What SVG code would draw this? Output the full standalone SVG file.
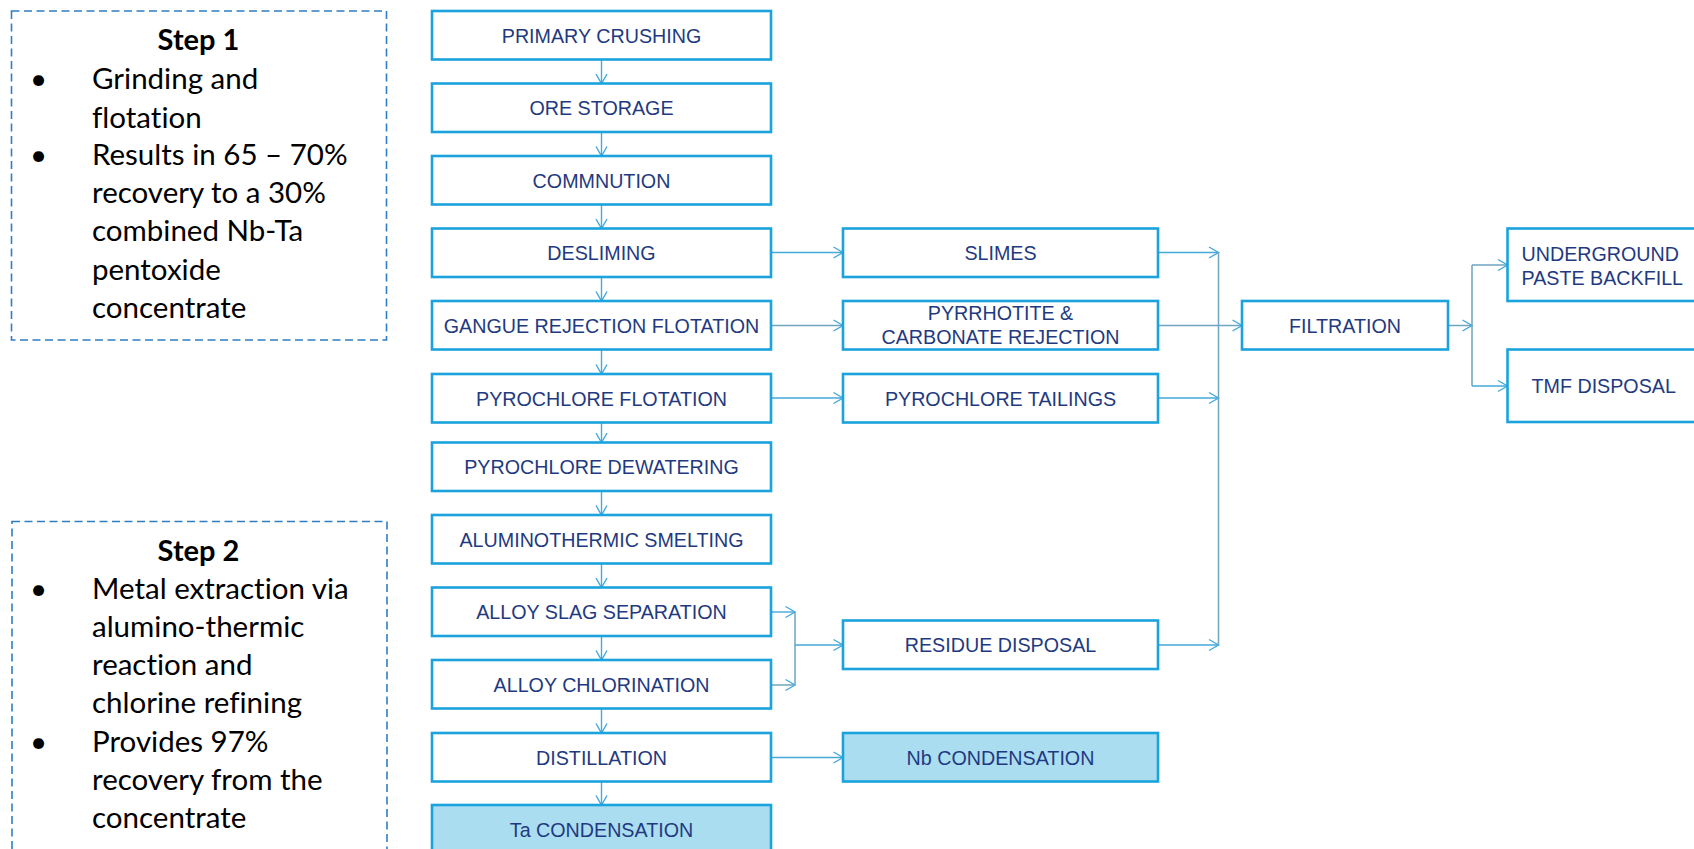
<svg xmlns="http://www.w3.org/2000/svg" width="1694" height="849" viewBox="0 0 1694 849">
<defs>
<marker id="arr" markerUnits="userSpaceOnUse" markerWidth="12" markerHeight="14" viewBox="0 0 12 14" refX="10.5" refY="7" orient="auto">
<path d="M1,1.5 L10.5,7 L1,12.5" fill="none" stroke="#45A9DA" stroke-width="1.4"/>
</marker>
<style>
.box{fill:#FFFFFF;stroke:#1AA3DD;stroke-width:2.6}
.fill{fill:#ABDDF1;stroke:#1AA3DD;stroke-width:2.6}
.t{font-family:"Liberation Sans",Arial,sans-serif;font-size:19.7px;fill:#1F3A80;text-anchor:middle}
.ts{font-family:"Liberation Sans",Arial,sans-serif;font-size:19.7px;fill:#1F3A80;text-anchor:start}
.c{fill:none;stroke:#45A9DA;stroke-width:1.4}
.g{fill:none;stroke:#6FA5C0;stroke-width:1.5}
.dash{fill:none;stroke:#2F7EC3;stroke-width:1.6;stroke-dasharray:8 4.5}
.st{font-family:Lato,"Open Sans",sans-serif;font-size:29.5px;fill:#000000;font-variant-ligatures:none;font-feature-settings:"liga" 0,"dlig" 0}
.sb{font-family:Lato,"Open Sans",sans-serif;font-size:29px;font-weight:bold;fill:#000000;text-anchor:middle}
</style>
</defs>

<g id="step1">
<rect class="dash" x="11.5" y="11" width="375" height="329"/>
<text class="sb" x="198.5" y="50">Step 1</text>
<text class="st" x="30" y="89">•</text>
<text class="st" x="92" y="89">Grinding and</text>
<text class="st" x="92" y="127.5">flotation</text>
<text class="st" x="30" y="165">•</text>
<text class="st" x="92" y="165">Results in 65 – 70%</text>
<text class="st" x="92" y="203">recovery to a 30%</text>
<text class="st" x="92" y="241">combined Nb-Ta</text>
<text class="st" x="92" y="279.5">pentoxide</text>
<text class="st" x="92" y="318">concentrate</text>
</g>

<g id="step2">
<rect class="dash" x="12" y="521.5" width="375" height="345"/>
<text class="sb" x="198.5" y="560.5">Step 2</text>
<text class="st" x="30" y="598.5">•</text>
<text class="st" x="92" y="598.5">Metal extraction via</text>
<text class="st" x="92" y="636.5">alumino-thermic</text>
<text class="st" x="92" y="675">reaction and</text>
<text class="st" x="92" y="713">chlorine refining</text>
<text class="st" x="30" y="751.5">•</text>
<text class="st" x="92" y="751.5">Provides 97%</text>
<text class="st" x="92" y="789.5">recovery from the</text>
<text class="st" x="92" y="828">concentrate</text>
</g>

<g id="connectors">
<line class="c" x1="601.5" y1="59.5" x2="601.5" y2="83.5" marker-end="url(#arr)"/>
<line class="c" x1="601.5" y1="132" x2="601.5" y2="156" marker-end="url(#arr)"/>
<line class="c" x1="601.5" y1="204.5" x2="601.5" y2="228.5" marker-end="url(#arr)"/>
<line class="c" x1="601.5" y1="277" x2="601.5" y2="301" marker-end="url(#arr)"/>
<line class="c" x1="601.5" y1="349.5" x2="601.5" y2="374" marker-end="url(#arr)"/>
<line class="c" x1="601.5" y1="422.5" x2="601.5" y2="442.5" marker-end="url(#arr)"/>
<line class="c" x1="601.5" y1="491" x2="601.5" y2="515" marker-end="url(#arr)"/>
<line class="c" x1="601.5" y1="563.5" x2="601.5" y2="587.5" marker-end="url(#arr)"/>
<line class="c" x1="601.5" y1="636" x2="601.5" y2="660" marker-end="url(#arr)"/>
<line class="c" x1="601.5" y1="708.5" x2="601.5" y2="733" marker-end="url(#arr)"/>
<line class="c" x1="601.5" y1="781.5" x2="601.5" y2="805" marker-end="url(#arr)"/>

<line class="c" x1="771" y1="252.5" x2="843" y2="252.5" marker-end="url(#arr)"/>
<line class="g" x1="771" y1="325.5" x2="843" y2="325.5" marker-end="url(#arr)"/>
<line class="c" x1="771" y1="398" x2="843" y2="398" marker-end="url(#arr)"/>

<line class="c" x1="1158" y1="252.5" x2="1218.5" y2="252.5" marker-end="url(#arr)"/>
<line class="g" x1="1158" y1="325.5" x2="1242" y2="325.5" marker-end="url(#arr)"/>
<line class="c" x1="1158" y1="398" x2="1218.5" y2="398" marker-end="url(#arr)"/>
<line class="c" x1="1158" y1="645" x2="1218.5" y2="645" marker-end="url(#arr)"/>
<line class="g" x1="1218.5" y1="252.5" x2="1218.5" y2="645"/>

<line class="g" x1="1448" y1="325.5" x2="1472" y2="325.5" marker-end="url(#arr)"/>
<line class="g" x1="1472" y1="265" x2="1472" y2="386"/>
<line class="g" x1="1472" y1="265" x2="1507.5" y2="265" marker-end="url(#arr)"/>
<line class="c" x1="1472" y1="386" x2="1507.5" y2="386" marker-end="url(#arr)"/>

<line class="c" x1="771" y1="612" x2="795" y2="612" marker-end="url(#arr)"/>
<line class="g" x1="771" y1="685" x2="795" y2="685" marker-end="url(#arr)"/>
<line class="g" x1="795" y1="612" x2="795" y2="685"/>
<line class="c" x1="795" y1="645" x2="843" y2="645" marker-end="url(#arr)"/>

<line class="c" x1="771" y1="757.5" x2="843" y2="757.5" marker-end="url(#arr)"/>
</g>

<g id="n1"><rect class="box" x="432" y="11" width="339" height="48.5"/><text class="t" x="601.5" y="42.5">PRIMARY CRUSHING</text></g>
<g id="n2"><rect class="box" x="432" y="83.5" width="339" height="48.5"/><text class="t" x="601.5" y="115">ORE STORAGE</text></g>
<g id="n3"><rect class="box" x="432" y="156" width="339" height="48.5"/><text class="t" x="601.5" y="187.5">COMMNUTION</text></g>
<g id="n4"><rect class="box" x="432" y="228.5" width="339" height="48.5"/><text class="t" x="601.5" y="260">DESLIMING</text></g>
<g id="n5"><rect class="box" x="432" y="301" width="339" height="48.5"/><text class="t" x="601.5" y="332.5">GANGUE REJECTION FLOTATION</text></g>
<g id="n6"><rect class="box" x="432" y="374" width="339" height="48.5"/><text class="t" x="601.5" y="405.5">PYROCHLORE FLOTATION</text></g>
<g id="n7"><rect class="box" x="432" y="442.5" width="339" height="48.5"/><text class="t" x="601.5" y="474">PYROCHLORE DEWATERING</text></g>
<g id="n8"><rect class="box" x="432" y="515" width="339" height="48.5"/><text class="t" x="601.5" y="546.5">ALUMINOTHERMIC SMELTING</text></g>
<g id="n9"><rect class="box" x="432" y="587.5" width="339" height="48.5"/><text class="t" x="601.5" y="619">ALLOY SLAG SEPARATION</text></g>
<g id="n10"><rect class="box" x="432" y="660" width="339" height="48.5"/><text class="t" x="601.5" y="691.5">ALLOY CHLORINATION</text></g>
<g id="n11"><rect class="box" x="432" y="733" width="339" height="48.5"/><text class="t" x="601.5" y="764.5">DISTILLATION</text></g>
<g id="n12"><rect class="fill" x="432" y="805" width="339" height="48.5"/><text class="t" x="601.5" y="836.5">Ta CONDENSATION</text></g>

<g id="slimes"><rect class="box" x="843" y="228.5" width="315" height="48.5"/><text class="t" x="1000.5" y="260">SLIMES</text></g>
<g id="pyrrhotite"><rect class="box" x="843" y="301" width="315" height="48.5"/><text class="t" x="1000.5" y="320">PYRRHOTITE &amp;</text><text class="t" x="1000.5" y="344">CARBONATE REJECTION</text></g>
<g id="tailings"><rect class="box" x="843" y="374" width="315" height="48.5"/><text class="t" x="1000.5" y="405.5">PYROCHLORE TAILINGS</text></g>
<g id="residue"><rect class="box" x="843" y="620.5" width="315" height="48.5"/><text class="t" x="1000.5" y="652">RESIDUE DISPOSAL</text></g>
<g id="nb"><rect class="fill" x="843" y="733" width="315" height="48.5"/><text class="t" x="1000.5" y="764.5">Nb CONDENSATION</text></g>

<g id="filtration"><rect class="box" x="1242" y="301" width="206" height="48.5"/><text class="t" x="1345" y="332.5">FILTRATION</text></g>
<g id="backfill"><rect class="box" x="1507.5" y="228.5" width="200" height="72.5"/><text class="ts" x="1521.5" y="260.5">UNDERGROUND</text><text class="ts" x="1521.5" y="285">PASTE BACKFILL</text></g>
<g id="tmf"><rect class="box" x="1507.5" y="349.5" width="200" height="72.5"/><text class="ts" x="1531.5" y="393">TMF DISPOSAL</text></g>
</svg>
